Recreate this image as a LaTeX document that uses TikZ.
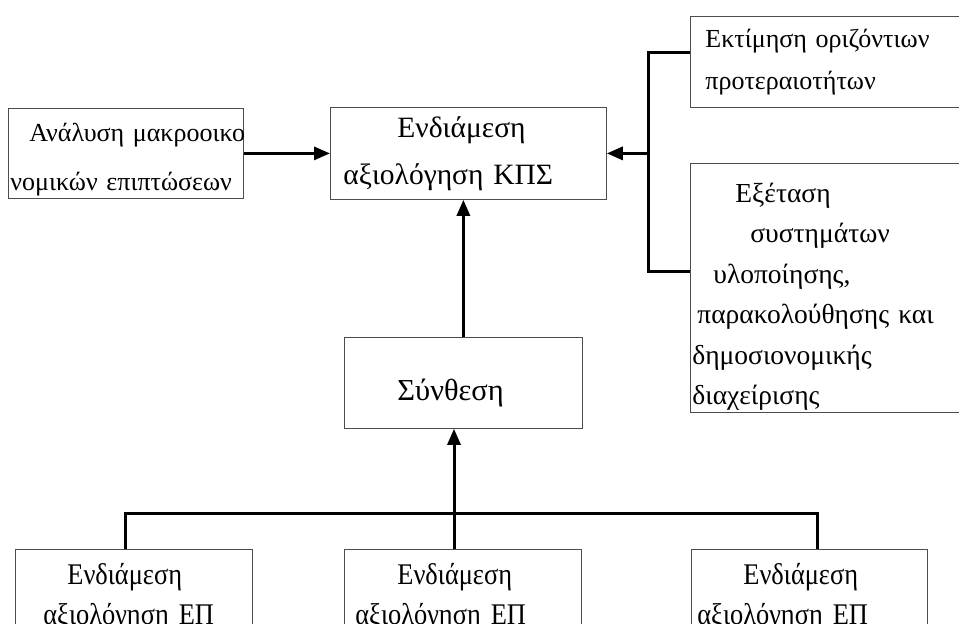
\documentclass[tikz,border=0pt]{standalone}
\usepackage{fontspec}
\setmainfont{Liberation Serif}
\newfontfamily\narrowfont[FakeStretch=0.88]{Liberation Serif}
\usetikzlibrary{arrows.meta,positioning}

\tikzset{
  box/.style={draw=black!70, line width=0.8pt, anchor=north west, align=left,
    inner xsep=2pt, inner ysep=0pt},
  link/.style={line width=3pt},
  arr/.style={link, -{Triangle[length=16pt,width=13pt]}},
  eptext/.style={font=\narrowfont\fontsize{30}{40}\selectfont},
}

\begin{document}
\begin{tikzpicture}[x=1pt, y=-1pt, font=\fontsize{29.5}{47}\selectfont]
   \clip (0,0) rectangle (959,624);
   \fill[white] (0,0) rectangle (959,624);

   % boxes
   \node[box, name=ana, text width=231pt, minimum height=90pt,
      font=\fontsize{26}{49}\selectfont] at (8,108)
      {\mbox{}\\[-19pt]\mbox{\hspace*{19pt}Ανάλυση μακροοικο}\\νομικών επιπτώσεων};
   \node[box, name=kps, text width=272pt, minimum height=92pt] at (330,107)
      {\hspace*{65pt}Ενδιάμεση\\\hspace*{11pt}αξιολόγηση ΚΠΣ};
   \node[box, name=ekt, text width=276pt, minimum height=91pt,
      font=\fontsize{26}{42}\selectfont] at (690,16)
      {\hspace*{13pt}Εκτίμηση οριζόντιων\\\hspace*{13pt}προτεραιοτήτων};
   \node[box, name=exe, text width=276pt, minimum height=249pt,
      font=\fontsize{27.5}{40.5}\selectfont] at (690,163)
      {\mbox{}\\[-3pt]\hspace*{43pt}Εξέταση\\\hspace*{58pt}συστημάτων\\
       \hspace*{21pt}υλοποίησης,\\\hspace*{5pt}παρακολούθησης και\\
       δημοσιονομικής\\διαχείρισης};
   \node[box, name=syn, text width=234pt, minimum height=91pt,
      font=\fontsize{30.5}{47}\selectfont] at (344,337)
      {\mbox{}\\[-6pt]\hspace*{51pt}Σύνθεση};

   \node[box, name=ep1, text width=233pt, minimum height=96pt, eptext] at (15,549)
      {\hspace*{50pt}Ενδιάμεση\\\hspace*{26pt}αξιολόγηση ΕΠ};
   \node[box, name=ep2, text width=233pt, minimum height=96pt, eptext] at (344,549)
      {\hspace*{51pt}Ενδιάμεση\\\hspace*{9pt}αξιολόγηση ΕΠ};
   \node[box, name=ep3, text width=232pt, minimum height=96pt, eptext] at (691,549)
      {\hspace*{50pt}Ενδιάμεση\\\hspace*{4pt}αξιολόγηση ΕΠ};

   % right side bracket
   \coordinate (rtop) at (648,52);
   \coordinate (rbot) at (648,271);
   \coordinate (rmid) at (rtop |- kps.east);
   \draw[link] (ekt.west |- rtop) -- (rtop) -- (rbot) -- (exe.west |- rbot);
   \draw[arr] (rmid) -- (kps.east);

   % bottom bus
   \coordinate (busl) at (125,513);
   \coordinate (busm) at (454,513);
   \coordinate (busr) at (817,513);
   \draw[link] (ep1.north -| busl) -- (busl) -- (busr) -- (ep3.north -| busr);
   \draw[link] (ep2.north -| busm) -- (busm);

   \path[arr]
      (ana.east) edge (kps.west)
      (syn.north) edge (syn.north |- kps.south)
      (busm) edge (syn.south -| busm);
\end{tikzpicture}
\end{document}
